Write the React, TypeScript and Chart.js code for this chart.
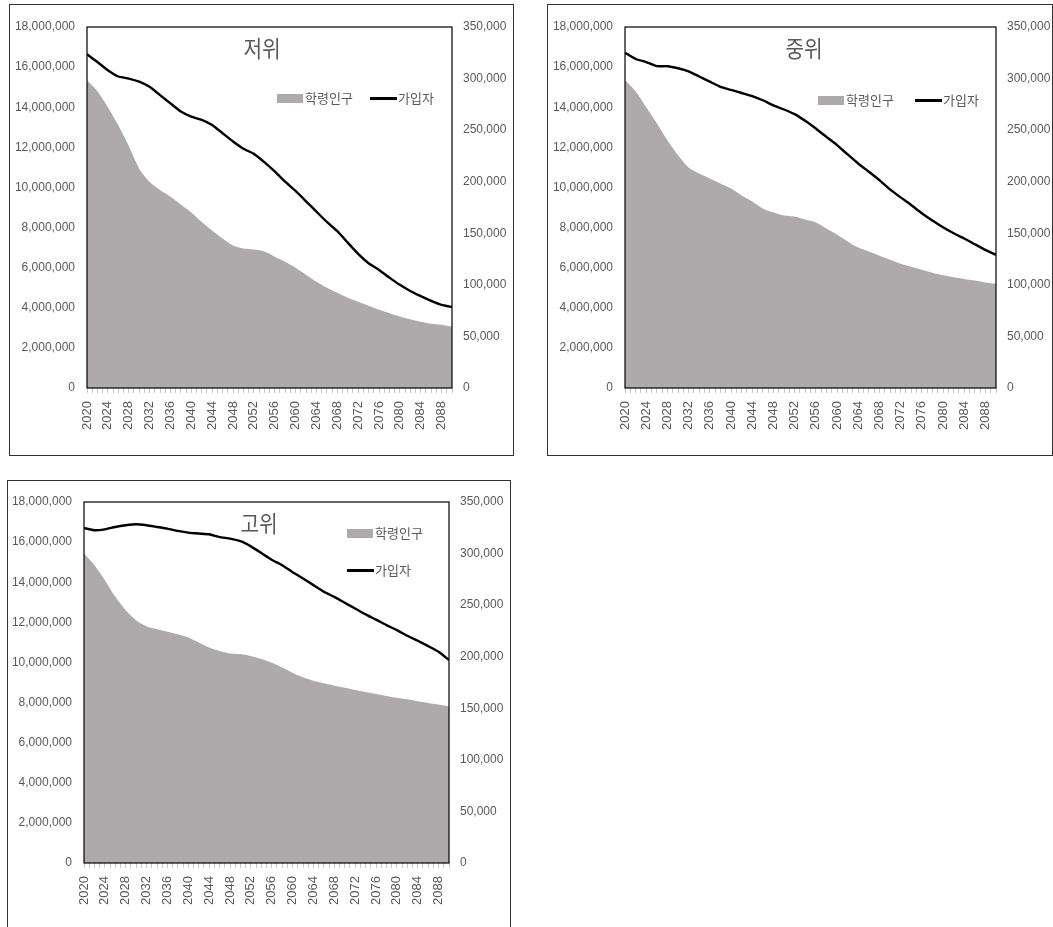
import React, { useEffect, useRef } from "react";
import { Chart, registerables } from "chart.js";

Chart.register(...registerables);

const years = [
  2020, 2022, 2024, 2026, 2028, 2030, 2032, 2034, 2036, 2038, 2040, 2042,
  2044, 2046, 2048, 2050, 2052, 2054, 2056, 2058, 2060, 2062, 2064, 2066,
  2068, 2070, 2072, 2074, 2076, 2078, 2080, 2082, 2084, 2086, 2088, 2090,
];

// 저위 scenario
const popLow = [
  15350000, 14800000, 14000000, 13100000, 12080000, 10950000, 10280000, 9870000,
  9540000, 9150000, 8750000, 8280000, 7850000, 7450000, 7100000, 6950000,
  6900000, 6800000, 6550000, 6300000, 6000000, 5650000, 5300000, 5000000,
  4750000, 4500000, 4300000, 4100000, 3900000, 3730000, 3570000, 3430000,
  3300000, 3200000, 3150000, 3050000,
];
const subLow = [
  323500, 316000, 308000, 302000, 300000, 297000, 292000, 284000, 276000,
  268000, 263000, 260000, 255000, 247000, 239000, 232000, 227000, 219000,
  210000, 200000, 191000, 181000, 171000, 161000, 152000, 141000, 130000,
  121000, 114500, 107000, 100000, 94000, 89000, 84500, 80600, 78500,
];

// 중위 scenario
const popMid = [
  15350000, 14800000, 14000000, 13200000, 12350000, 11600000, 11000000, 10700000,
  10450000, 10200000, 9950000, 9600000, 9300000, 8950000, 8750000, 8600000,
  8550000, 8400000, 8250000, 7950000, 7650000, 7300000, 7000000, 6800000,
  6600000, 6400000, 6200000, 6050000, 5900000, 5750000, 5620000, 5520000,
  5440000, 5360000, 5260000, 5200000,
];
const subMid = [
  325000, 319000, 316000, 312000, 312000, 310000, 307000, 302000, 297000,
  292000, 289000, 286000, 283000, 279000, 274000, 270000, 265500, 259000,
  251600, 243500, 235500, 226500, 217700, 209700, 201600, 192600, 184800,
  177400, 169400, 162300, 155800, 150000, 145000, 139400, 133900, 129000,
];

// 고위 scenario
const popHigh = [
  15430000, 14850000, 14100000, 13270000, 12600000, 12100000, 11800000, 11650000,
  11530000, 11400000, 11250000, 11000000, 10750000, 10570000, 10450000, 10420000,
  10320000, 10170000, 9990000, 9750000, 9490000, 9260000, 9090000, 8960000,
  8840000, 8740000, 8630000, 8530000, 8430000, 8330000, 8240000, 8160000,
  8060000, 7980000, 7900000, 7800000,
];
const subHigh = [
  324800, 322600, 323500, 325800, 327400, 328400, 327400, 325800, 324200,
  322000, 320300, 319400, 318700, 316000, 314500, 312000, 307000, 300600,
  294000, 288700, 282000, 275800, 269400, 263000, 258000, 252300, 246800,
  241000, 236000, 230600, 225800, 220300, 215500, 210300, 204800, 196800,
];

const seriesNames = ["학령인구", "가입자"];
const titles = ["저위", "중위", "고위"];

const X_MIN = 2020;
const X_MAX = 2090;
const X_LABEL_STEP = 4;
const LEFT_MAX = 18000000;
const LEFT_STEP = 2000000;
const RIGHT_MAX = 350000;
const RIGHT_STEP = 50000;

const AREA_COLOR = "#aeaaab";
const TEXT_COLOR = "#595959";
const NUM_FONT = '"Liberation Sans", Arial, sans-serif';
const KR_FONT = '"Noto Sans CJK KR", "Noto Sans", sans-serif';

const framePlugin = {
  id: "frame",
  afterDatasetsDraw(chart: any) {
    const { ctx, chartArea } = chart;
    const { left, top, right, bottom } = chartArea;
    ctx.save();
    ctx.strokeStyle = "#000";
    ctx.lineWidth = 1.2;
    ctx.strokeRect(left, top, right - left, bottom - top);
    ctx.restore();
  },
};

type PanelProps = {
  pop: number[];
  sub: number[];
  title: string;
  box: { left: number; top: number; width: number; height: number };
  leftW: number;
  rightW: number;
  topPad: number;
  xH: number;
  titlePos: { x: number; y: number };
  legend: {
    rect: { x: number; y: number };
    line: { x: number; y: number };
  };
};

function Panel(p: PanelProps) {
  const ref = useRef<HTMLCanvasElement | null>(null);
  const cw = p.box.width - 2;
  const ch = p.box.height - 2;

  useEffect(() => {
    if (!ref.current) return;
    const chart = new Chart(ref.current, {
      type: "line",
      data: {
        datasets: [
          {
            label: seriesNames[1],
            data: years.map((x, i) => ({ x, y: p.sub[i] })),
            yAxisID: "y1",
            borderColor: "#000",
            borderWidth: 2.4,
            pointRadius: 0,
            tension: 0.15,
            fill: false,
            order: 0,
          },
          {
            label: seriesNames[0],
            data: years.map((x, i) => ({ x, y: p.pop[i] })),
            yAxisID: "y",
            borderWidth: 0,
            borderColor: AREA_COLOR,
            backgroundColor: AREA_COLOR,
            pointRadius: 0,
            tension: 0.3,
            fill: "origin",
            order: 1,
          },
        ],
      },
      options: {
        responsive: false,
        animation: false,
        layout: { padding: { top: p.topPad, left: 0, right: 0, bottom: 0 } },
        plugins: {
          legend: { display: false },
          title: { display: false },
          tooltip: { enabled: false },
        },
        scales: {
          x: {
            type: "linear",
            min: X_MIN,
            max: X_MAX,
            border: { display: false },
            grid: {
              drawOnChartArea: false,
              drawTicks: true,
              tickLength: 5,
              color: "#c8c8c8",
            },
            ticks: {
              stepSize: 1,
              autoSkip: false,
              maxRotation: 90,
              minRotation: 90,
              padding: 8,
              color: TEXT_COLOR,
              font: { family: NUM_FONT, size: 13 },
              callback: (v: any) => {
                const n = Number(v);
                return (n - X_MIN) % X_LABEL_STEP === 0 && n < X_MAX ? String(n) : "";
              },
            },
            afterFit: (s: any) => {
              s.height = p.xH;
            },
          },
          y: {
            type: "linear",
            position: "left",
            min: 0,
            max: LEFT_MAX,
            border: { display: false },
            grid: { display: false, drawTicks: false },
            ticks: {
              stepSize: LEFT_STEP,
              padding: 12,
              color: TEXT_COLOR,
              font: { family: NUM_FONT, size: 12 },
              callback: (v: any) => Number(v).toLocaleString("en-US"),
            },
            afterFit: (s: any) => {
              s.width = p.leftW;
            },
          },
          y1: {
            type: "linear",
            position: "right",
            min: 0,
            max: RIGHT_MAX,
            border: { display: false },
            grid: { display: false, drawTicks: false },
            ticks: {
              stepSize: RIGHT_STEP,
              padding: 11,
              color: TEXT_COLOR,
              font: { family: NUM_FONT, size: 12 },
              callback: (v: any) => Number(v).toLocaleString("en-US"),
            },
            afterFit: (s: any) => {
              s.width = p.rightW;
            },
          },
        },
      },
      plugins: [framePlugin],
    } as any);
    return () => chart.destroy();
  }, []);

  const textStyle: React.CSSProperties = {
    position: "absolute",
    fontFamily: KR_FONT,
    color: TEXT_COLOR,
    fontSize: 13,
    lineHeight: "16px",
    whiteSpace: "nowrap",
    transform: "translateY(-50%)",
  };

  return (
    <>
      <div
        style={{
          position: "absolute",
          left: p.box.left,
          top: p.box.top,
          width: p.box.width,
          height: p.box.height,
          boxSizing: "border-box",
          border: "1px solid #333",
          background: "#fff",
        }}
      >
        <canvas ref={ref} width={cw} height={ch} style={{ display: "block", width: cw, height: ch }} />
      </div>
      <div
        style={{
          position: "absolute",
          left: p.titlePos.x,
          top: p.titlePos.y,
          transform: "translate(-50%, -50%) scaleX(0.88)",
          fontFamily: KR_FONT,
          fontSize: 23,
          color: TEXT_COLOR,
          whiteSpace: "nowrap",
          lineHeight: "28px",
        }}
      >
        {p.title}
      </div>
      <div
        style={{
          position: "absolute",
          left: p.legend.rect.x,
          top: p.legend.rect.y - 4,
          width: 26,
          height: 9,
          background: AREA_COLOR,
        }}
      />
      <div style={{ ...textStyle, left: p.legend.rect.x + 28, top: p.legend.rect.y }}>{seriesNames[0]}</div>
      <div
        style={{
          position: "absolute",
          left: p.legend.line.x,
          top: p.legend.line.y - 1.5,
          width: 27,
          height: 3,
          background: "#000",
        }}
      />
      <div style={{ ...textStyle, left: p.legend.line.x + 28, top: p.legend.line.y }}>{seriesNames[1]}</div>
    </>
  );
}

export default function App() {
  return (
    <div
      style={{
        position: "fixed",
        left: 0,
        top: 0,
        width: 1053,
        height: 927,
        overflow: "hidden",
        background: "#fff",
      }}
    >
      <Panel
        pop={popLow}
        sub={subLow}
        title={titles[0]}
        box={{ left: 9, top: 4, width: 505, height: 452 }}
        leftW={77}
        rightW={61}
        topPad={22}
        xH={67}
        titlePos={{ x: 262, y: 47 }}
        legend={{ rect: { x: 277, y: 98 }, line: { x: 370, y: 98 } }}
      />
      <Panel
        pop={popMid}
        sub={subMid}
        title={titles[1]}
        box={{ left: 547, top: 4, width: 506, height: 452 }}
        leftW={77}
        rightW={56}
        topPad={22}
        xH={67}
        titlePos={{ x: 804, y: 47 }}
        legend={{ rect: { x: 818, y: 100 }, line: { x: 915, y: 100 } }}
      />
      <Panel
        pop={popHigh}
        sub={subHigh}
        title={titles[2]}
        box={{ left: 7, top: 480, width: 504, height: 452 }}
        leftW={76}
        rightW={61}
        topPad={21}
        xH={68}
        titlePos={{ x: 259, y: 522 }}
        legend={{ rect: { x: 347, y: 533 }, line: { x: 347, y: 570 } }}
      />
    </div>
  );
}
